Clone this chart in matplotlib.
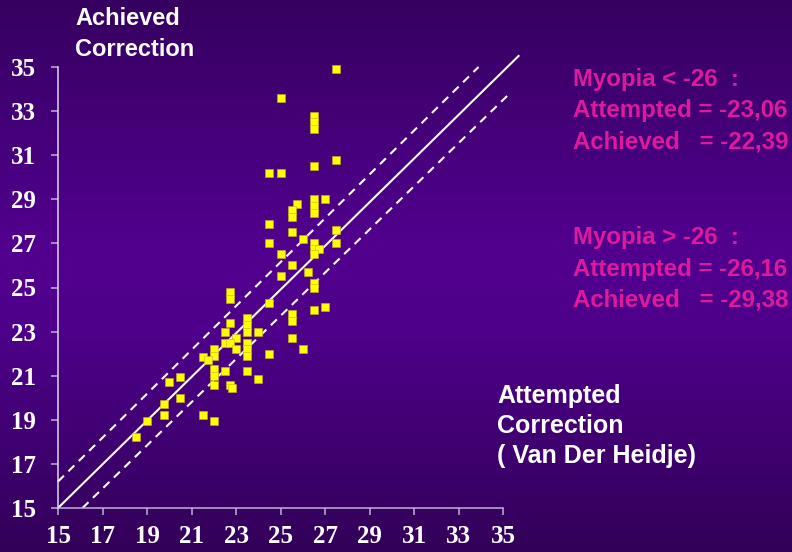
"""
Scatter of attempted vs achieved correction (Van Der Heidje)
"""

import numpy as np
import matplotlib
matplotlib.use("Agg")
import matplotlib.pyplot as plt
from matplotlib.colors import LinearSegmentedColormap


# =========================
# 1. data
# =========================
attempted = [
    27.5, 25.0, 26.5, 26.5, 26.5, 27.5, 26.5, 24.5, 25.0,
    26.5, 26.5, 26.5, 27.0, 25.75, 25.5, 25.5, 24.5, 27.5, 25.5, 26.0,
    24.5, 26.5, 27.5, 26.5, 26.75, 26.5, 25.0, 25.5, 26.25, 25.0,
    26.5, 26.5, 22.75, 22.75, 24.5, 27.0, 26.5, 25.5, 25.5,
    23.5, 23.5, 23.5, 22.75, 22.5, 24.0, 23.0, 25.5,
    22.5, 22.75, 23.5, 23.0, 22.0, 23.5, 26.0, 22.0, 23.5, 24.5,
    21.5, 21.75, 22.0, 22.0, 22.0, 22.5, 23.5, 24.0, 22.75, 22.8,
    20.5, 20.0, 20.5, 19.75, 19.75, 21.5, 22.0, 19.0, 18.5,
]
achieved = [
    34.9, 33.6, 32.8, 32.5, 32.2, 30.8, 30.5, 30.2, 30.2,
    29.0, 28.7, 28.4, 29.0, 28.8, 28.5, 28.2, 27.9, 27.6, 27.5, 27.2,
    27.0, 27.0, 27.0, 26.75, 26.75, 26.5, 26.5, 26.0, 25.7, 25.5,
    25.2, 25.0, 24.8, 24.5, 24.3, 24.1, 24.0, 23.8, 23.5,
    23.6, 23.3, 23.0, 23.4, 23.0, 23.0, 22.7, 22.7,
    22.5, 22.5, 22.5, 22.2, 22.2, 22.2, 22.2, 21.9, 21.9, 22.0,
    21.85, 21.7, 21.3, 21.0, 20.6, 21.2, 21.2, 20.85, 20.6, 20.45,
    20.95, 20.7, 20.0, 19.7, 19.2, 19.2, 18.95, 18.95, 18.2,
]

# reference lines (x start/end, y start/end)
ident_x = [15, 35.7]
ident_y = [15, 35.5]
upper_x = [15, 33.9]
upper_y = [16.2, 35.0]
lower_x = [16.1, 35.2]
lower_y = [15, 33.7]

ticks = list(range(15, 36, 2))

group_low = ["Myopia < -26  :", "Attempted = -23,06", "Achieved   = -22,39"]
group_high = ["Myopia > -26  :", "Attempted = -26,16", "Achieved   = -29,38"]

MAGENTA = "#dc1a9c"
YELLOW = "#ffff00"


# =========================
# 2. background gradient
# =========================
def draw_background(fig):
    bg = fig.add_axes([0, 0, 1, 1], zorder=-10)
    cmap = LinearSegmentedColormap.from_list(
        "bg", [(0.0, "#360060"), (0.45, "#52008f"), (0.6, "#4e008a"), (1.0, "#320058")]
    )
    grad = np.linspace(0, 1, 256).reshape(-1, 1)
    bg.imshow(grad, aspect="auto", cmap=cmap, extent=[0, 1, 0, 1])
    bg.set_axis_off()


# =========================
# 3. main plot
# =========================
def main():
    fig = plt.figure(figsize=(7.92, 5.52), dpi=100)
    draw_background(fig)

    ax = fig.add_axes([58 / 792, 44 / 552, 445 / 792, 441 / 552])
    ax.set_facecolor("none")

    ax.plot(attempted, achieved, "s", color=YELLOW, ms=5.8, mec="#c8b020",
            mew=0.4, zorder=3, clip_on=False)

    ax.plot(ident_x, ident_y, color="white", lw=1.5, clip_on=False, zorder=2)
    ax.plot(upper_x, upper_y, color="white", lw=1.5, ls=(0, (4, 3)),
            clip_on=False, zorder=2)
    ax.plot(lower_x, lower_y, color="white", lw=1.5, ls=(0, (4, 3)),
            clip_on=False, zorder=2)

    ax.set_xlim(15, 35)
    ax.set_ylim(15, 35)
    ax.set_xticks(ticks)
    ax.set_yticks(ticks)

    for side in ("top", "right"):
        ax.spines[side].set_visible(False)
    ax.spines["left"].set_color("#e0d8ec")
    ax.spines["bottom"].set_color("#c0b0d8")
    ax.spines["left"].set_linewidth(1.1)
    ax.spines["bottom"].set_linewidth(1.1)

    ax.tick_params(axis="both", colors="#c0b0d8", length=5, width=1.1)
    ax.tick_params(axis="y", pad=11)
    ax.tick_params(axis="x", pad=7)
    for lab in ax.get_xticklabels() + ax.get_yticklabels():
        lab.set_color("white")
        lab.set_fontfamily("Liberation Serif")
        lab.set_fontweight("bold")
        lab.set_fontsize(18)

    # text blocks
    fig.text(75 / 792, 1 - 34 / 552, "Achieved\nCorrection", color="white",
             fontsize=17, fontweight="bold", family="Liberation Sans",
             va="center", ha="left", linespacing=1.4)

    fig.text(497 / 792, 1 - 426 / 552, "Attempted\nCorrection\n( Van Der Heidje)",
             color="white", fontsize=18, fontweight="bold",
             family="Liberation Sans", va="center", ha="left", linespacing=1.3)

    fig.text(573 / 792, 1 - 111 / 552, "\n".join(group_low), color=MAGENTA,
             fontsize=17.3, fontweight="bold", family="Liberation Sans",
             va="center", ha="left", linespacing=1.45)
    fig.text(573 / 792, 1 - 269 / 552, "\n".join(group_high), color=MAGENTA,
             fontsize=17.3, fontweight="bold", family="Liberation Sans",
             va="center", ha="left", linespacing=1.45)

    fig.savefig("out.png", dpi=100)


if __name__ == "__main__":
    main()
